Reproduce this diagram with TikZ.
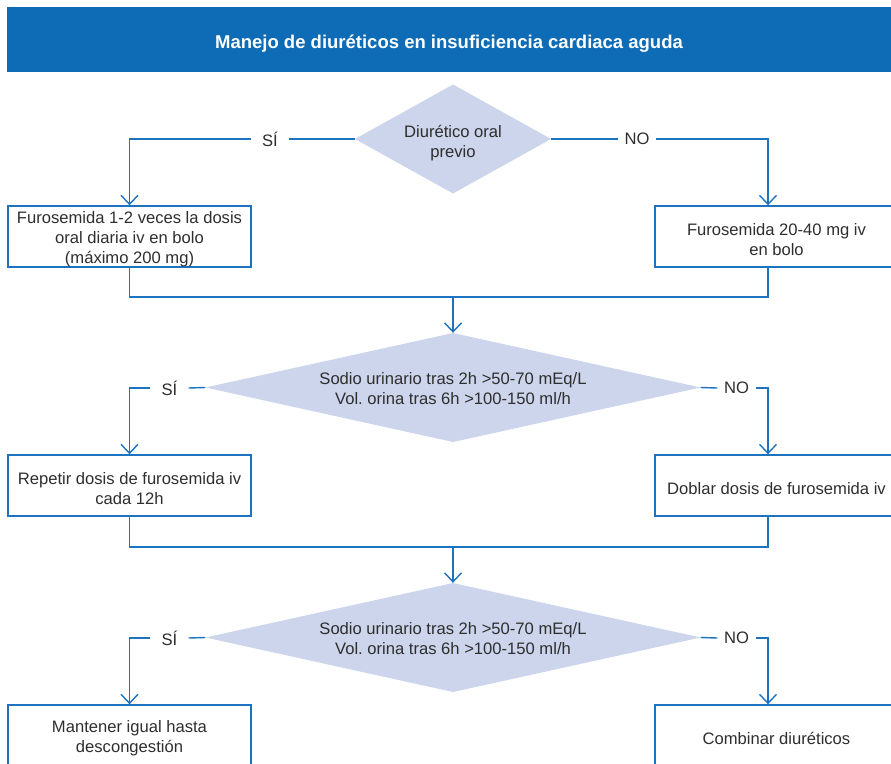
\documentclass[tikz,border=0pt]{standalone}
\usepackage{fontspec}
\setmainfont{Liberation Sans}
\usetikzlibrary{arrows.meta}
\definecolor{hdrblue}{HTML}{0E6BB5}
\definecolor{lineblue}{HTML}{1E73C0}
\definecolor{dfill}{HTML}{CCD5EB}
\definecolor{txt}{HTML}{2E2E2E}
\frenchspacing
\newcommand{\topgap}[1]{\rule{0pt}{#1}}
\begin{document}
\begin{tikzpicture}[x=1pt,y=-1pt,
  font=\fontsize{16.6}{20}\selectfont,
  box/.style={draw=lineblue, line width=1.4pt, minimum width=243pt, minimum height=61pt, align=center, text=txt, inner sep=0pt},
  dec/.style={rectangle, inner sep=0pt, align=center, text=txt,
    path picture={\fill[dfill] (path picture bounding box.west) -- (path picture bounding box.north)
      -- (path picture bounding box.east) -- (path picture bounding box.south) -- cycle;}},
  lbl/.style={fill=white, minimum width=38pt, inner sep=0pt, text=txt},
  conn/.style={draw=lineblue, line width=1.4pt},
  arr/.style={conn, -{Straight Barb[length=9pt,width=17pt]}}]
\useasboundingbox (0,0) rectangle (891,763);
\clip (0,0) rectangle (891,763);

\node[fill=hdrblue, minimum width=884pt, minimum height=65pt, inner sep=0pt, text=white,
      font=\bfseries\fontsize{18.5}{20}\selectfont] (hdr) at (449,39.5)
      {\topgap{21pt}Manejo de diuréticos en insuficiencia cardiaca aguda};

% level 1
\node[dec, minimum width=196pt, minimum height=109pt] (d1) at (453,139) {\topgap{20pt}Diurético oral\\previo};
\node[lbl] (s1) at (270,139) {SÍ};
\node[lbl] (n1) at (637,139) {NO};
\node[box] (b1) at (129.5,236.5) {\topgap{17pt}Furosemida 1-2 veces la dosis\\oral diaria iv en bolo\\(máximo 200 mg)};
\node[box] (b2) at (776.5,236.5) {\topgap{18pt}Furosemida 20-40 mg iv\\en bolo};
\coordinate (rx) at (768,0);
\draw[conn] (d1.west) -- (s1.east);
\draw[arr] (s1.west) -| (b1.north);
\draw[conn] (d1.east) -- (n1.west);
\draw[arr] (n1.east) -| (rx |- b2.north);
\coordinate (m1) at (453,297);
\draw[conn] (b1.south) |- (m1);
\draw[conn] (rx |- b2.south) |- (m1);

% level 2
\node[dec, minimum width=495pt, minimum height=109pt] (d2) at (453,387.5) {\topgap{14pt}Sodio urinario tras 2h >50-70 mEq/L\\Vol. orina tras 6h >100-150 ml/h};
\draw[arr] (m1) -- (d2.north);
\node[lbl] (s2) at (169.5,388) {SÍ};
\node[lbl] (n2) at (736.5,388) {NO};
\node[box] (b3) at (129.5,485.5) {\topgap{18pt}Repetir dosis de furosemida iv\\cada 12h};
\node[box] (b4) at (776.5,485.5) {\topgap{18pt}Doblar dosis de furosemida iv};
\draw[conn] (d2.west) -- (s2.east);
\draw[arr] (s2.west) -| (b3.north);
\draw[conn] (d2.east) -- (n2.west);
\draw[arr] (n2.east) -| (rx |- b4.north);
\coordinate (m2) at (453,547);
\draw[conn] (b3.south) |- (m2);
\draw[conn] (rx |- b4.south) |- (m2);

% level 3
\node[dec, minimum width=495pt, minimum height=109pt] (d3) at (453,637.5) {\topgap{14pt}Sodio urinario tras 2h >50-70 mEq/L\\Vol. orina tras 6h >100-150 ml/h};
\draw[arr] (m2) -- (d3.north);
\node[lbl] (s3) at (169.5,638) {SÍ};
\node[lbl] (n3) at (736.5,638) {NO};
\node[box] (b5) at (129.5,735.5) {\topgap{18pt}Mantener igual hasta\\descongestión};
\node[box] (b6) at (776.5,735.5) {\topgap{18pt}Combinar diuréticos};
\draw[conn] (d3.west) -- (s3.east);
\draw[arr] (s3.west) -| (b5.north);
\draw[conn] (d3.east) -- (n3.west);
\draw[arr] (n3.east) -| (rx |- b6.north);
\end{tikzpicture}
\end{document}
